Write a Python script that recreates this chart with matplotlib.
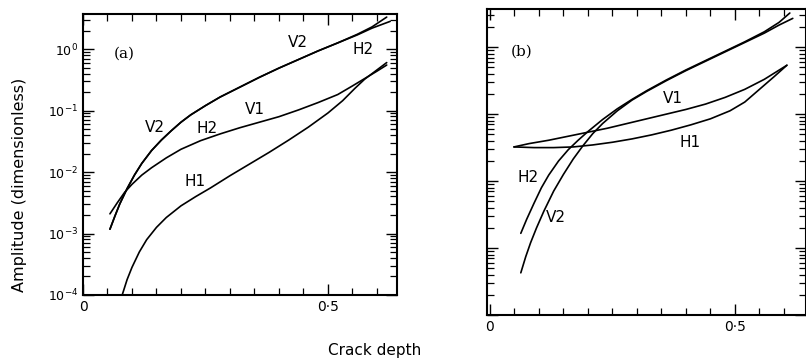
import numpy as np
import matplotlib
matplotlib.use("Agg")
import matplotlib.pyplot as plt
from matplotlib.ticker import LogLocator, MultipleLocator, NullFormatter, FixedLocator

# ---------------- data (log10 amplitude vs crack depth) ----------------
# Panel (a)
a_v2_x = [0.055, 0.065, 0.075, 0.09, 0.105, 0.12, 0.14, 0.16, 0.18, 0.20, 0.22,
          0.25, 0.28, 0.32, 0.36, 0.40, 0.44, 0.48, 0.52, 0.56, 0.59, 0.62]
a_v2_y = [-2.93, -2.72, -2.52, -2.27, -2.05, -1.86, -1.65, -1.48, -1.33, -1.19, -1.07,
          -0.92, -0.78, -0.62, -0.46, -0.31, -0.17, -0.03, 0.10, 0.24, 0.36, 0.52]
a_h2_x = [0.055, 0.065, 0.075, 0.09, 0.105, 0.12, 0.14, 0.16, 0.18, 0.20, 0.22,
          0.25, 0.28, 0.32, 0.36, 0.40, 0.44, 0.48, 0.52, 0.56, 0.59, 0.627]
a_h2_y = [-2.93, -2.72, -2.52, -2.27, -2.05, -1.86, -1.65, -1.48, -1.33, -1.19, -1.07,
          -0.92, -0.78, -0.62, -0.46, -0.31, -0.17, -0.03, 0.10, 0.23, 0.34, 0.45]
a_v1_x = [0.055, 0.07, 0.085, 0.10, 0.12, 0.14, 0.17, 0.20, 0.24, 0.28, 0.32, 0.36,
          0.40, 0.44, 0.48, 0.52, 0.55, 0.575, 0.60, 0.62]
a_v1_y = [-2.68, -2.50, -2.33, -2.20, -2.05, -1.93, -1.77, -1.63, -1.49, -1.38, -1.28,
          -1.19, -1.10, -0.99, -0.87, -0.74, -0.60, -0.48, -0.36, -0.26]
a_h1_x = [0.080, 0.09, 0.10, 0.115, 0.13, 0.15, 0.17, 0.20, 0.23, 0.26, 0.30, 0.34,
          0.38, 0.42, 0.46, 0.50, 0.53, 0.555, 0.575, 0.60, 0.62]
a_h1_y = [-4.0, -3.75, -3.55, -3.30, -3.10, -2.90, -2.74, -2.55, -2.40, -2.26, -2.06,
          -1.87, -1.68, -1.48, -1.27, -1.04, -0.84, -0.64, -0.49, -0.34, -0.22]

# Panel (b)
b_h2_x = [0.063, 0.075, 0.09, 0.105, 0.12, 0.14, 0.16, 0.18, 0.20, 0.23, 0.26, 0.29,
          0.32, 0.36, 0.40, 0.44, 0.48, 0.52, 0.56, 0.59, 0.612]
b_h2_y = [-2.78, -2.57, -2.33, -2.10, -1.91, -1.70, -1.53, -1.39, -1.26, -1.08, -0.92,
          -0.78, -0.65, -0.49, -0.34, -0.20, -0.06, 0.08, 0.23, 0.37, 0.51]
b_v2_x = [0.063, 0.073, 0.083, 0.095, 0.11, 0.13, 0.15, 0.17, 0.19, 0.21, 0.23, 0.26,
          0.29, 0.32, 0.36, 0.40, 0.44, 0.48, 0.52, 0.56, 0.59, 0.618]
b_v2_y = [-3.37, -3.13, -2.92, -2.70, -2.45, -2.15, -1.90, -1.67, -1.47, -1.29, -1.14,
          -0.95, -0.79, -0.66, -0.50, -0.35, -0.21, -0.07, 0.07, 0.21, 0.33, 0.43]
b_v1_x = [0.049, 0.08, 0.12, 0.16, 0.20, 0.24, 0.28, 0.32, 0.36, 0.40, 0.44, 0.48,
          0.52, 0.56, 0.606]
b_v1_y = [-1.49, -1.44, -1.39, -1.33, -1.27, -1.21, -1.14, -1.07, -1.00, -0.93, -0.85,
          -0.75, -0.63, -0.48, -0.27]
b_h1_x = [0.049, 0.09, 0.13, 0.17, 0.21, 0.25, 0.29, 0.33, 0.37, 0.41, 0.45, 0.49,
          0.52, 0.55, 0.58, 0.606]
b_h1_y = [-1.49, -1.50, -1.50, -1.49, -1.46, -1.42, -1.37, -1.31, -1.24, -1.16, -1.07,
          -0.95, -0.82, -0.63, -0.44, -0.27]

# curve labels: (text, x, log10 y)
a_labels = [("V2", 0.439, 0.106), ("H2", 0.571, 0.0), ("V2", 0.147, -1.28),
            ("H2", 0.253, -1.29), ("V1", 0.351, -0.985), ("H1", 0.229, -2.15)]
b_labels = [("H2", 0.077, -1.94), ("V2", 0.134, -2.54), ("V1", 0.374, -0.76),
            ("H1", 0.409, -1.42)]

y_tick_vals = [1e-4, 1e-3, 1e-2, 1e-1, 1e0]
y_tick_labels = [r"$10^{-4}$", r"$10^{-3}$", r"$10^{-2}$", r"$10^{-1}$", r"$10^{0}$"]
x_tick_vals = [0.0, 0.5]
x_tick_labels = ["0", "0\u00b75"]

# ---------------- figure ----------------
W, H = 806, 361
fig = plt.figure(figsize=(W / 100, H / 100), dpi=100)
plt.rcParams['font.family'] = ['DejaVu Sans']


def px_axes(left, top, right, bottom):
    return fig.add_axes([left / W, 1 - bottom / H, (right - left) / W, (bottom - top) / H])


ax_a = px_axes(83, 14, 397, 295)
ax_b = px_axes(487, 9, 806, 315)

curves_a = [(a_v2_x, a_v2_y), (a_h2_x, a_h2_y), (a_v1_x, a_v1_y), (a_h1_x, a_h1_y)]
curves_b = [(b_h2_x, b_h2_y), (b_v2_x, b_v2_y), (b_v1_x, b_v1_y), (b_h1_x, b_h1_y)]

for ax, curves, labels, tag, xl in [(ax_a, curves_a, a_labels, "(a)", (0.0, 0.641)),
                                    (ax_b, curves_b, b_labels, "(b)", (-0.006, 0.645))]:
    for cx, cy in curves:
        ax.plot(cx, 10 ** np.array(cy), color="black", lw=1.2,
                solid_joinstyle="round", solid_capstyle="round")
    ax.set_yscale("log")
    ax.set_ylim(1e-4, 10 ** 0.57)
    ax.set_xlim(*xl)
    for t, lx, ly in labels:
        ax.text(lx, 10 ** ly, t, fontsize=11, ha="center", va="center", color="black")
    ax.text(0.13 if tag == "(a)" else 0.11, 0.86, tag, transform=ax.transAxes,
            fontsize=11, family="DejaVu Serif", ha="center", va="center")

    ax.xaxis.set_major_locator(FixedLocator(x_tick_vals))
    ax.set_xticklabels(x_tick_labels, fontsize=10)
    ax.xaxis.set_minor_locator(MultipleLocator(0.05))
    ax.yaxis.set_major_locator(FixedLocator(y_tick_vals))
    ax.yaxis.set_minor_locator(LogLocator(base=10, subs=np.arange(2, 10), numticks=20))
    ax.yaxis.set_minor_formatter(NullFormatter())
    ax.tick_params(which="both", direction="in", top=True, right=True, color="black")
    ax.tick_params(which="major", length=8, width=1.0)
    ax.tick_params(which="minor", length=5, width=0.9)
    for s in ax.spines.values():
        s.set_linewidth(1.5)

ax_a.set_yticklabels(y_tick_labels, fontsize=9)
ax_b.set_yticklabels([])
fig.text(20 / W, 1 - 185 / H, "Amplitude (dimensionless)", fontsize=11.5,
         rotation=90, ha="center", va="center")
fig.text(375 / W, 1 - 350 / H, "Crack depth", fontsize=11, ha="center", va="center")

fig.savefig("out.png", dpi=100)
